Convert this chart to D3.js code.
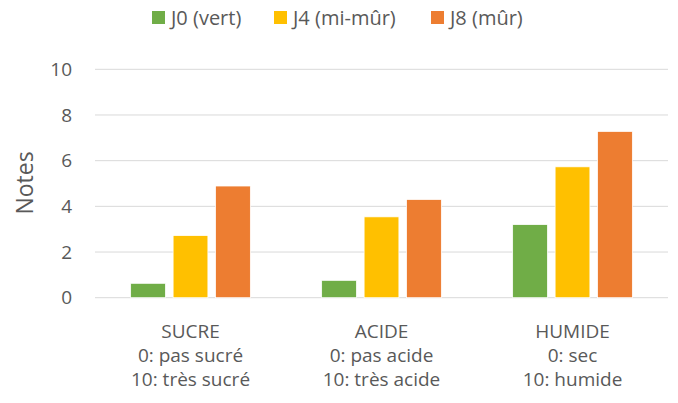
<!DOCTYPE html>
<html>
<head>
<meta charset="utf-8">
<script src="https://cdn.jsdelivr.net/npm/d3@7"></script>
<style>
  body { margin: 0; background: #fff; }
  svg text { font-family: "Open Sans", Lato, sans-serif; fill: #595959; }
</style>
</head>
<body>
<div id="chart"></div>
<script>
// notes moyennes par critère et stade de maturité
const categories = ["SUCRE", "ACIDE", "HUMIDE"];
const catLines = [
	["SUCRE", "0: pas sucré", "10: très sucré"],
	["ACIDE", "0: pas acide", "10: très acide"],
	["HUMIDE", "0: sec", "10: humide"]
];
const series = ["J0 (vert)", "J4 (mi-mûr)", "J8 (mûr)"];
const colors = ["#70AD47", "#FFC000", "#ED7D31"];
const j0 = [0.63, 0.76, 3.2];
const j4 = [2.72, 3.54, 5.73];
const j8 = [4.89, 4.3, 7.28];
const yTicks = [0, 2, 4, 6, 8, 10];

const values = [j0, j4, j8];
const width = 678, height = 403;

const svg = d3.select("#chart").append("svg")
	.attr("width", width)
	.attr("height", height);

const x0 = d3.scaleBand()
	.domain(categories)
	.range([95, 668])
	.padding(0);

const x1 = d3.scaleBand()
	.domain(series)
	.range([0, x0.bandwidth()])
	.paddingInner(0.18)
	.paddingOuter(0.84);

const y = d3.scaleLinear()
	.domain([0, 10])
	.range([297.7, 69.3]);

const color = d3.scaleOrdinal().domain(series).range(colors);

// gridlines
svg.append("g")
	.attr("class", "grid")
	.selectAll("line")
	.data(yTicks)
	.join("line")
	.attr("x1", 95)
	.attr("x2", 668)
	.attr("y1", d => y(d))
	.attr("y2", d => y(d))
	.attr("stroke", "#D9D9D9")
	.attr("stroke-width", 1);

// y axis labels
const yAxis = svg.append("g")
	.attr("transform", "translate(72,0)")
	.call(d3.axisLeft(y).tickValues(yTicks).tickSize(0).tickPadding(0));
yAxis.select(".domain").remove();
yAxis.selectAll("text")
	.style("font-size", "19px")
	.attr("fill", "#595959");

svg.append("text")
	.attr("transform", "translate(33,183) rotate(-90)")
	.attr("text-anchor", "middle")
	.style("font-size", "23px")
	.text("Notes");

// bars
const rows = [];
categories.forEach((c, i) => {
	series.forEach((s, j) => {
		rows.push({cat: c, ser: s, value: values[j][i]});
	});
});

svg.append("g")
	.attr("class", "bars")
	.selectAll("rect")
	.data(rows)
	.join("rect")
	.attr("x", d => x0(d.cat) + x1(d.ser))
	.attr("width", x1.bandwidth())
	.attr("y", d => y(d.value))
	.attr("height", d => y(0) - y(d.value))
	.attr("fill", d => color(d.ser))
	.attr("stroke", "#fff")
	.attr("stroke-width", 0.75);

// category labels (3 lines each)
const catG = svg.append("g")
	.selectAll("text")
	.data(categories)
	.join("text")
	.attr("text-anchor", "middle")
	.style("font-size", "19px");
catG.each(function(c, i) {
	const cx = x0(c) + x0.bandwidth() / 2;
	d3.select(this).selectAll("tspan")
		.data(catLines[i])
		.join("tspan")
		.attr("x", cx)
		.attr("y", (d, k) => 338 + k * 24)
		.text(d => d);
});

// legend
const legendX = [152, 274, 431];
const legend = svg.append("g")
	.selectAll("g")
	.data(series)
	.join("g")
	.attr("transform", (d, i) => "translate(" + legendX[i] + ",11)");
legend.append("rect")
	.attr("width", 13)
	.attr("height", 13)
	.attr("fill", d => color(d));
legend.append("text")
	.attr("x", 19)
	.attr("y", 14)
	.style("font-size", "20px")
	.text(d => d);
</script>
</body>
</html>
